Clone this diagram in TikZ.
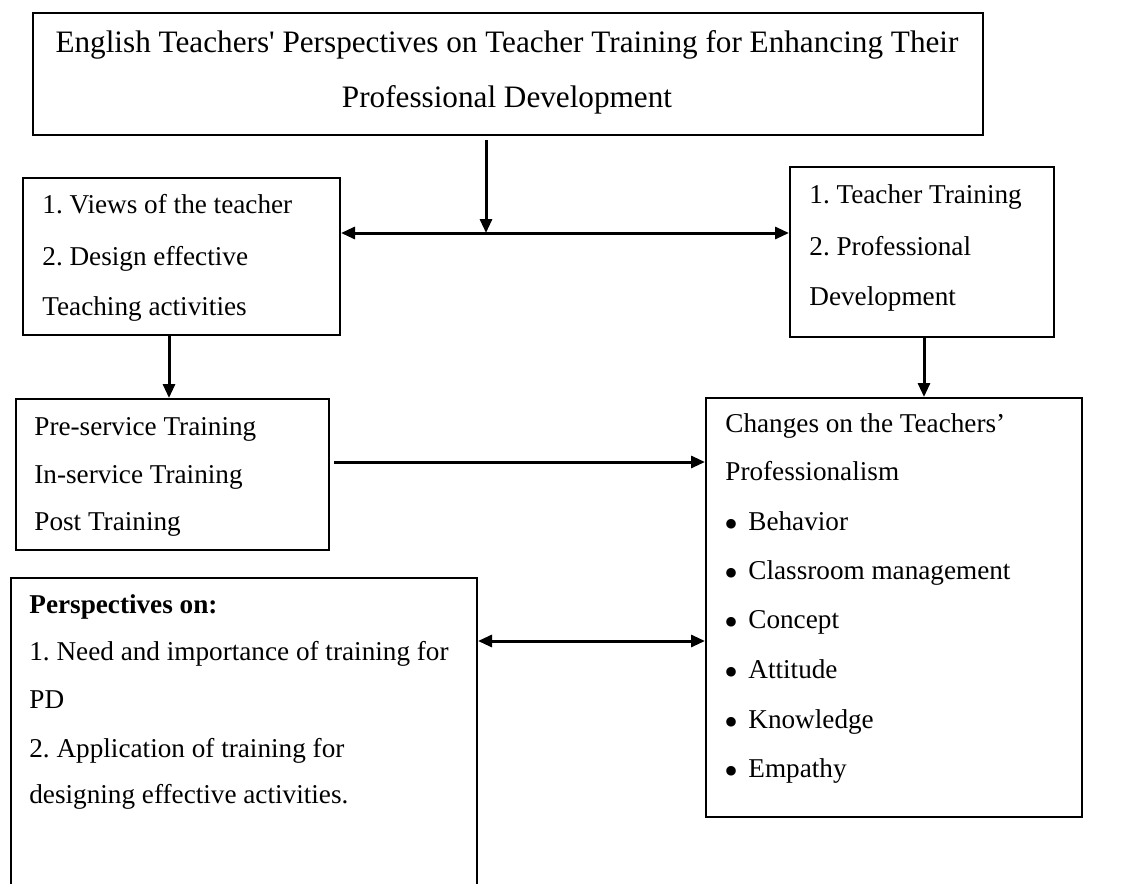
\documentclass[tikz,border=0pt]{standalone}
\usepackage{fontspec}
\setmainfont{Liberation Serif}
\usetikzlibrary{arrows.meta}
\frenchspacing
\begin{document}
\begin{tikzpicture}[x=0.5pt,y=-0.5pt,
  box/.style={draw, line width=1pt, rectangle, inner sep=0pt, anchor=north west},
  txt/.style={anchor=base west, inner sep=0pt, font=\fontsize{13.6}{16}\selectfont},
  head/.style={anchor=base, inner sep=0pt, font=\fontsize{15.6}{18}\selectfont},
  dot/.style={anchor=center, inner sep=0pt, font=\fontsize{20}{20}\selectfont},
  tip/.style={-{Triangle[length=7pt,width=6pt]}},
  arr/.style={line width=1.5pt, tip},
  darr/.style={line width=1.5pt, {Triangle[length=7pt,width=6pt]}-{Triangle[length=7pt,width=6pt]}}]
\useasboundingbox (0,0) rectangle (1121,884);
\clip (0,0) rectangle (1121,884);

% boxes
\node[box, minimum width=475pt, minimum height=61pt]  (title)   at (32,12)  {};
\node[box, minimum width=158.5pt, minimum height=78.5pt] (views) at (22,177) {};
\node[box, minimum width=132pt, minimum height=85pt]  (tt)      at (789,166) {};
\node[box, minimum width=156.5pt, minimum height=75.5pt] (train) at (15,398) {};
\node[box, minimum width=233pt, minimum height=180pt] (persp)   at (10,577) {};
\node[box, minimum width=188pt, minimum height=209.5pt] (changes) at (705,397) {};

% title text
\node[head] (t1) at (507,52) {English Teachers\textquotesingle\ Perspectives on Teacher Training for Enhancing Their};
\node[head] (t2) at (507,107) {Professional Development};

% left upper box
\node[txt] (v1) at (42,213) {1. Views of the teacher};
\node[txt] (v2) at (42,265) {2. Design effective};
\node[txt] (v3) at (42,315) {Teaching activities};

% right upper box
\node[txt] (r1) at (809,203) {1. Teacher Training};
\node[txt] (r2) at (809,255) {2. Professional};
\node[txt] (r3) at (809,305) {Development};

% training box
\node[txt] (p1) at (34,435) {Pre-service Training};
\node[txt] (p2) at (34,483) {In-service Training};
\node[txt] (p3) at (34,530) {Post Training};

% perspectives box
\node[txt, font=\fontsize{13.6}{16}\selectfont\bfseries] (s0) at (29,613) {Perspectives on:};
\node[txt] (s1) at (29,660) {1. Need and importance of training for};
\node[txt] (s2) at (29,708) {PD};
\node[txt] (s3) at (29,757) {2. Application of training for};
\node[txt] (s4) at (29,803) {designing effective activities.};

% changes box
\node[txt] (c1) at (725,432) {Changes on the Teachers’};
\node[txt] (c2) at (725,480) {Professionalism};
\foreach \y/\w [count=\i] in {530/Behavior,579/Classroom management,628/Concept,678/Attitude,728/Knowledge,777/Empathy}{
  \node[dot] (b\i) at (731,\y-2) {•};
  \node[txt] (k\i) at (748,\y) {\w};
}

% connectors
\coordinate (j) at (486,233);
\draw[arr, shorten <=2pt] (title.south -| j) -- (j);
\draw[darr] (views.east |- j) -- (tt.west |- j);

\coordinate (xa) at (169,0);
\draw[arr] (views.south -| xa) -- (train.north -| xa);

\coordinate (xb) at (924,0);
\draw[arr] (tt.south -| xb) -- (changes.north -| xb);

\coordinate (ya) at (0,462);
\draw[arr, shorten <=2pt] (train.east |- ya) -- (changes.west |- ya);

\coordinate (yb) at (0,641);
\draw[darr] (persp.east |- yb) -- (changes.west |- yb);
\end{tikzpicture}
\end{document}
